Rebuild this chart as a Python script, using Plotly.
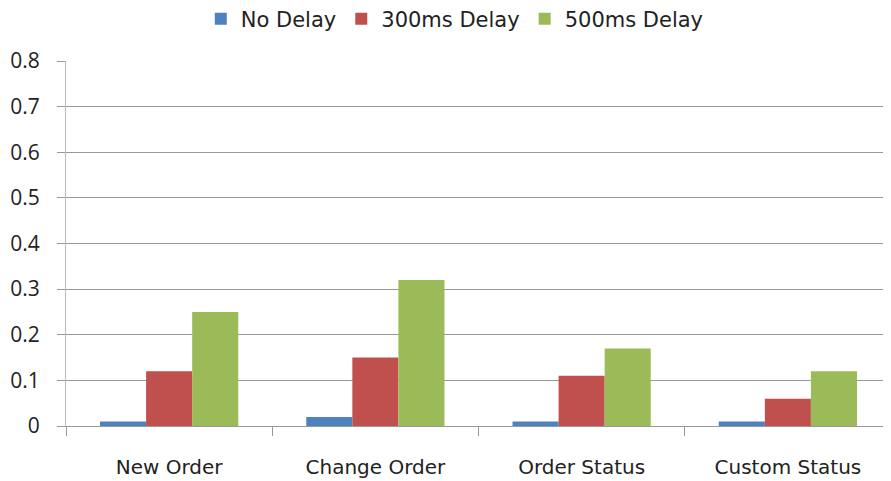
import plotly.graph_objects as go

categories = ["New Order", "Change Order", "Order Status", "Custom Status"]
no_delay = [0.01, 0.02, 0.01, 0.01]
delay_300 = [0.12, 0.15, 0.11, 0.06]
delay_500 = [0.25, 0.32, 0.17, 0.12]
y_ticks = [0, 0.1, 0.2, 0.3, 0.4, 0.5, 0.6, 0.7, 0.8]

font_family = "DejaVu Sans, Open Sans, sans-serif"

fig = go.Figure()
fig.add_trace(go.Bar(name="No Delay", x=categories, y=no_delay,
                     marker=dict(color="#4F81BD", line_width=0)))
fig.add_trace(go.Bar(name="300ms Delay", x=categories, y=delay_300,
                     marker=dict(color="#C0504D", line_width=0)))
fig.add_trace(go.Bar(name="500ms Delay", x=categories, y=delay_500,
                     marker=dict(color="#9BBB59", line_width=0)))

# page body has an 8px margin, so the figure is a bit smaller than the window
fig.update_layout(
    width=883, height=473,
    margin=dict(l=58, r=0, t=53, b=55, autoexpand=False),
    paper_bgcolor="white", plot_bgcolor="white",
    barmode="group", bargap=0.33, bargroupgap=0,
    font=dict(family=font_family, size=20, color="#222"),
    legend=dict(orientation="h", xref="container", x=0.506, xanchor="center",
                y=1.115, yanchor="middle", itemwidth=30,
                font=dict(size=21), traceorder="normal"),
    showlegend=True,
)
fig.update_xaxes(
    type="category", tickson="boundaries", ticks="outside", ticklen=9,
    tickcolor="#999", showline=True, linecolor="#999", linewidth=1,
    showgrid=False, tickfont=dict(size=20), ticklabelstandoff=23,
    automargin=False,
)
fig.update_yaxes(
    range=[0, 0.8], tickvals=y_ticks, ticktext=[f"{v:g}" for v in y_ticks],
    ticks="outside", ticklen=8, tickcolor="#999", showline=True,
    linecolor="#bbb", linewidth=1, showgrid=True, gridcolor="#999",
    gridwidth=1, zeroline=False,
    tickfont=dict(family="Open Sans, sans-serif", size=21),
    ticklabelstandoff=13, automargin=False,
)

fig.write_html("out.html")
